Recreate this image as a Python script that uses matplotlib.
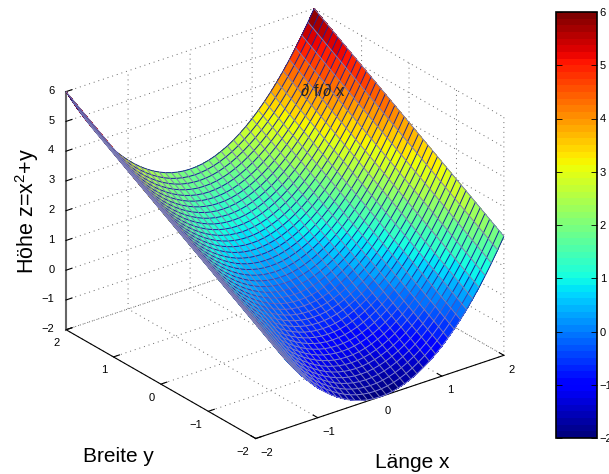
import numpy as np
import matplotlib
matplotlib.use("Agg")
import matplotlib.pyplot as plt
from matplotlib.cm import ScalarMappable
from matplotlib.colors import Normalize, to_rgb
from mpl_toolkits.mplot3d.art3d import Line3DCollection

plt.rcParams['font.family'] = ['Liberation Sans', 'DejaVu Sans']
plt.rcParams['mathtext.fontset'] = 'custom'
plt.rcParams['mathtext.rm'] = 'Liberation Sans'

# ---------- Data ----------
x_vals = [-2.0, -1.9, -1.8, -1.7, -1.6, -1.5, -1.4, -1.3, -1.2, -1.1, -1.0,
          -0.9, -0.8, -0.7, -0.6, -0.5, -0.4, -0.3, -0.2, -0.1, 0.0,
          0.1, 0.2, 0.3, 0.4, 0.5, 0.6, 0.7, 0.8, 0.9, 1.0,
          1.1, 1.2, 1.3, 1.4, 1.5, 1.6, 1.7, 1.8, 1.9, 2.0]
y_vals = list(x_vals)
# height along the line y=0, the surface just shifts by y
z_at_y0 = [4.00, 3.61, 3.24, 2.89, 2.56, 2.25, 1.96, 1.69, 1.44, 1.21, 1.00,
           0.81, 0.64, 0.49, 0.36, 0.25, 0.16, 0.09, 0.04, 0.01, 0.00,
           0.01, 0.04, 0.09, 0.16, 0.25, 0.36, 0.49, 0.64, 0.81, 1.00,
           1.21, 1.44, 1.69, 1.96, 2.25, 2.56, 2.89, 3.24, 3.61, 4.00]
tick_vals = [-2, -1, 0, 1, 2]
z_ticks = [-2, -1, 0, 1, 2, 3, 4, 5, 6]

X, Y = np.meshgrid(x_vals, y_vals)
Z = np.array(z_at_y0)[None, :] + np.array(y_vals)[:, None]

# ---------- Figure ----------
fig = plt.figure(figsize=(6.09, 4.74), dpi=100)
W, H = 609.0, 474.0
ax = fig.add_axes([28.2/W, -6.25/H, 500/W, 500/H], projection='3d', proj_type='ortho')
ax.view_init(elev=26, azim=232.6)
ax.set_box_aspect((312, 312, 264.6), zoom=1.0)
ax.patch.set_alpha(0)
ax.computed_zorder = False

cmap = plt.get_cmap('jet', 64)
norm = Normalize(-2, 6)

ax.plot_surface(X, Y, Z, rstride=1, cstride=1, cmap=cmap, norm=norm,
                linewidth=0, antialiased=False, shade=False, zorder=1)

# parabola segments fade from dark blue (high) to light blue-grey (low)
dark = np.array(to_rgb('#1a2296'))
light = np.array(to_rgb('#8080d8'))
segs = []
seg_cols = []
for i in range(Z.shape[0]):
    for j in range(Z.shape[1] - 1):
        segs.append([(X[i, j], Y[i, j], Z[i, j]), (X[i, j+1], Y[i, j+1], Z[i, j+1])])
        f = np.clip((0.5*(Z[i, j] + Z[i, j+1]) + 0.6) / 1.2, 0, 1)
        seg_cols.append(f*dark + (1-f)*light)
ax.add_collection3d(Line3DCollection(segs, colors=seg_cols, linewidths=0.7, zorder=2))
ax.plot_wireframe(X, Y, Z, rstride=0, cstride=1, color='#7e7eb4', linewidth=0.7, zorder=3)

ax.set_xlim(-2, 2)
ax.set_ylim(-2, 2)
ax.set_zlim(-2, 6)
ax.set_xticks(tick_vals)
ax.set_yticks(tick_vals)
ax.set_zticks(z_ticks)
ax.tick_params(labelsize=8, pad=-3)
plt.setp(ax.get_xticklabels(), ha='left')
plt.setp(ax.get_yticklabels(), ha='right')
plt.setp(ax.get_zticklabels(), ha='right', va='center')

for axis in (ax.xaxis, ax.yaxis, ax.zaxis):
    axis.set_pane_color((1, 1, 1, 0))
    axis.pane.set_edgecolor('none')
    axis._axinfo['grid'].update(color='#666666', linestyle=(0, (1, 4)), linewidth=0.7)
    axis._axinfo['axisline']['color'] = 'black'
    axis.line.set_linewidth(0.8)
    axis._axinfo['tick']['outward_factor'] = 0.3
    axis._axinfo['tick']['inward_factor'] = 0.0

ax.zaxis.set_ticks_position('upper')
ax.zaxis.line.set_color('#666666')
ax.zaxis.line.set_linewidth(1.5)

# ---------- Labels ----------
fig.text(118/W, 1-457/H, 'Breite y', fontsize=15, ha='center', va='center')
fig.text(412/W, 1-463/H, 'Länge x', fontsize=15, ha='center', va='center')
fig.text(27/W, 1-211/H, 'Höhe z=x$^2$+y', fontsize=15.5, rotation=90, ha='center', va='center')
fig.text(323/W, 1-91/H, '∂ f/∂ x', fontsize=12, ha='center', va='center', color='#222222')

# ---------- Colorbar ----------
cax = fig.add_axes([556/W, 1-438/H, 41/W, 426/H])
cb = fig.colorbar(ScalarMappable(norm=norm, cmap=cmap), cax=cax, ticks=z_ticks)
cb.outline.set_linewidth(1.2)
cb.ax.tick_params(labelsize=8, direction='in', left=True, right=True, length=4, width=0.6, pad=2)

fig.savefig('out.png', dpi=100)
